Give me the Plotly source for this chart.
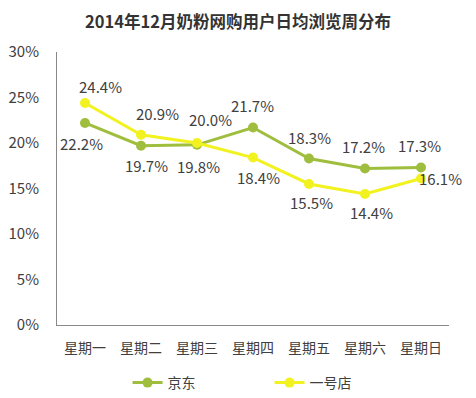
import plotly.graph_objects as go

categories = ["星期一", "星期二", "星期三", "星期四", "星期五", "星期六", "星期日"]
jd_values = [22.2, 19.7, 19.8, 21.7, 18.3, 17.2, 17.3]
yhd_values = [24.4, 20.9, 20.0, 18.4, 15.5, 14.4, 16.1]
y_ticks = [0, 5, 10, 15, 20, 25, 30]
y_tick_labels = ["0%", "5%", "10%", "15%", "20%", "25%", "30%"]

# label offsets (px) relative to each point: (xshift, yshift)
jd_label_shift = [(-4, -21), (5, -20), (1, -22), (-1, 22), (0, 21), (-2, 22), (-2, 22)]
yhd_label_shift = [(15, 16), (16, 21), (13, 24), (5, -20), (2, -19), (6, -19), (19, 0)]

FONT = "Noto Sans CJK SC"
TXT = "#404040"
JD_COLOR = "#9FBE3E"
YHD_COLOR = "#F2F220"

# the page body adds an 8px margin, so the figure is drawn 8px smaller each way
W, H = 468, 390

fig = go.Figure()
fig.add_trace(go.Scatter(
    x=categories, y=jd_values, name="京东", mode="lines+markers",
    line=dict(color=JD_COLOR, width=3), marker=dict(color=JD_COLOR, size=10),
    cliponaxis=False,
))
fig.add_trace(go.Scatter(
    x=categories, y=yhd_values, name="一号店", mode="lines+markers",
    line=dict(color=YHD_COLOR, width=3), marker=dict(color=YHD_COLOR, size=10),
    cliponaxis=False,
))

for vals, shifts in ((jd_values, jd_label_shift), (yhd_values, yhd_label_shift)):
    for c, v, (dx, dy) in zip(categories, vals, shifts):
        fig.add_annotation(x=c, y=v, text=f"{v:.1f}%", showarrow=False,
                           xshift=dx, yshift=dy, xanchor="center", yanchor="middle",
                           font=dict(family=FONT, size=15, color=TXT))

fig.update_layout(
    width=W, height=H,
    margin=dict(l=49, r=27, t=44, b=73, autoexpand=False),
    paper_bgcolor="white", plot_bgcolor="white",
    font=dict(family=FONT, size=14, color=TXT),
    title=dict(text="<b>2014年12月奶粉网购用户日均浏览周分布</b>", x=(238 - 8) / W, xanchor="center",
               y=1 - 14 / H, yanchor="middle", pad=dict(t=0, b=0),
               font=dict(size=16.5, color="#333333")),
    showlegend=True,
    legend=dict(orientation="h", x=0.18, xanchor="left", y=-0.2125, yanchor="middle",
                font=dict(size=14, color=TXT), entrywidth=97, itemwidth=30),
    xaxis=dict(type="category", range=[-0.5, 6.5], showline=True, linecolor="#888888",
               linewidth=1, ticks="", showgrid=False, ticklabelstandoff=10, automargin=False,
               tickfont=dict(size=14, color=TXT)),
    yaxis=dict(range=[0, 30], tickvals=y_ticks, ticktext=y_tick_labels, showline=True,
               linecolor="#888888", linewidth=1, showgrid=False, zeroline=False, ticks="",
               ticklabelstandoff=14, automargin=False, tickfont=dict(size=15, color=TXT)),
)

fig.write_html("out.html")
